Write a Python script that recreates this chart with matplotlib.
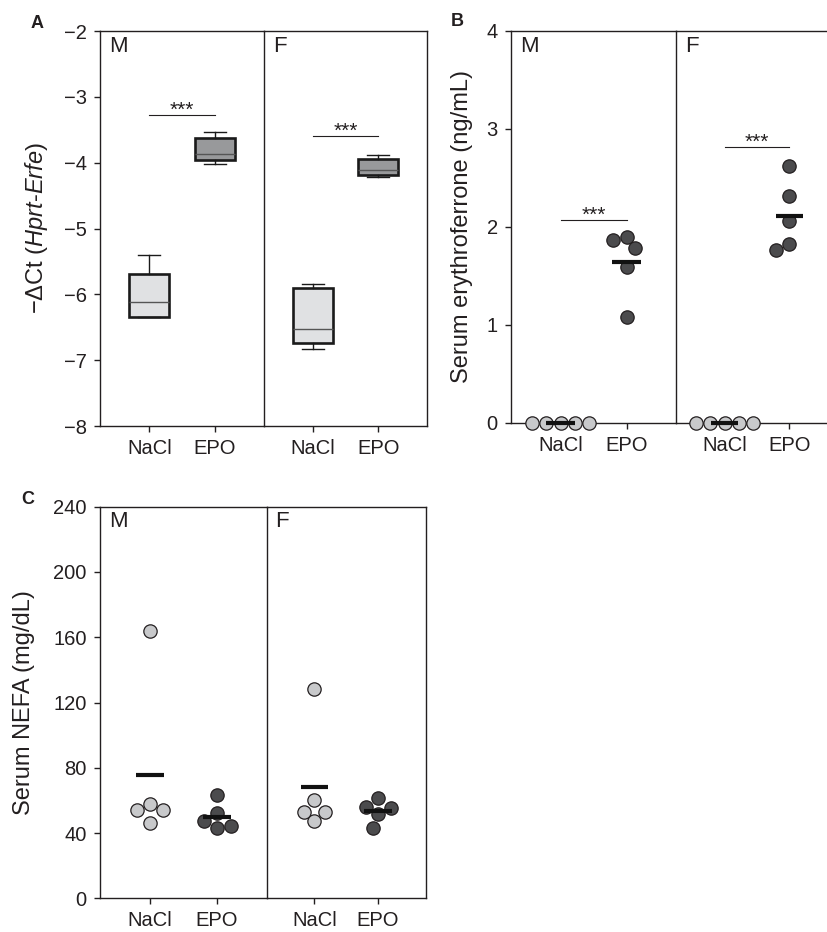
import matplotlib
matplotlib.use("Agg")
import matplotlib.pyplot as plt
import numpy as np

plt.rcParams["font.family"] = ["Liberation Sans", "DejaVu Sans"]
plt.rcParams["mathtext.fontset"] = "custom"
plt.rcParams["mathtext.rm"] = "Liberation Sans"
plt.rcParams["mathtext.it"] = "Liberation Sans:italic"

# Categorias
grupos = ["NaCl", "EPO"]
sexos = ["M", "F"]

# Painel A: caixas (whislo, q1, mediana, q3, whishi) para NaCl e EPO
caixa_m = [[-6.35, -6.35, -6.12, -5.69, -5.41],
           [-4.02, -3.96, -3.87, -3.62, -3.53]]
caixa_f = [[-6.83, -6.74, -6.52, -5.90, -5.84],
           [-4.22, -4.19, -4.11, -3.94, -3.89]]
sig_a = [-3.27, -3.595]

# Painel B: eritroferrona (ng/mL)
b_nacl_m = [0, 0, 0, 0, 0]
b_epo_m = [1.90, 1.87, 1.78, 1.59, 1.08]
b_nacl_f = [0, 0, 0, 0, 0]
b_epo_f = [2.62, 2.31, 2.06, 1.82, 1.76]
sig_b = [2.07, 2.815]

# Painel C: NEFA (mg/dL)
c_nacl_m = [164.0, 57.8, 46.4, 54.1, 54.1]
c_epo_m = [63.3, 42.9, 52.5, 47.4, 44.1]
c_nacl_f = [128.1, 60.3, 47.4, 53.1, 53.1]
c_epo_f = [61.3, 51.5, 43.3, 56.2, 55.1]

cor_txt = "#231f20"
cor_nacl_caixa = "#e0e1e3"
cor_epo_caixa = "#98999b"
cor_nacl_pt = "#c8c9cb"
cor_epo_pt = "#4b4b4d"
xpos = [0.3, 0.7]

W, H = 827, 932
fig = plt.figure(figsize=(W / 100, H / 100), dpi=100)


def novo_eixo(x0, x1, ytop, ybot):
    ax = fig.add_axes([x0 / W, 1 - ybot / H, (x1 - x0) / W, (ybot - ytop) / H])
    ax.patch.set_facecolor("none")
    return ax


def estilo(ax, esquerda, sexo, ylim):
    ax.set_xlim(0, 1)
    ax.set_ylim(*ylim)
    for s in ax.spines.values():
        s.set_linewidth(1.0)
        s.set_color(cor_txt)
    ax.set_xticks(xpos)
    ax.set_xticklabels(grupos)
    ax.tick_params(direction="out", length=4.5, width=1.0, colors=cor_txt,
                   labelsize=14.5, pad=5)
    if not esquerda:
        ax.spines["left"].set_visible(False)
        ax.tick_params(axis="y", left=False, labelleft=False)
    ax.text(0.055, 0.988, sexo, transform=ax.transAxes, ha="left", va="top",
            fontsize=16, color=cor_txt)


def swarm(ax, xc, vals, d=14.3):
    # desloca os pontos na horizontal para nao se sobreporem (ordem da lista)
    ys = ax.transData.transform(np.column_stack([np.full(len(vals), xc), vals]))[:, 1]
    colocados = []
    offs = []
    for y in ys:
        cands = [0.0]
        for xo, yo in colocados:
            dy = abs(y - yo)
            if dy < d:
                dx = np.sqrt(d ** 2 - dy ** 2)
                cands += [xo - dx, xo + dx]
        cands.sort(key=abs)
        escolha = cands[0]
        for c in cands:
            if all((c - xo) ** 2 + (y - yo) ** 2 >= d ** 2 - 1e-6 for xo, yo in colocados):
                escolha = c
                break
        colocados.append((escolha, y))
        offs.append(escolha)
    px_por_unid = ax.transData.transform((1, 0))[0] - ax.transData.transform((0, 0))[0]
    return xc + np.array(offs) / px_por_unid


def pontos(ax, vals, xc, cor):
    xs = swarm(ax, xc, vals)
    ax.scatter(xs, vals, s=92, color=cor, edgecolor=cor_txt, linewidth=0.9,
               zorder=3, clip_on=False)
    m = np.mean(vals)
    ax.plot([xc - 0.085, xc + 0.085], [m, m], color="#111111", lw=3.0,
            zorder=4, solid_capstyle="butt", clip_on=False)


def signif(ax, y):
    ax.plot([xpos[0], xpos[1]], [y, y], color=cor_txt, lw=0.8)
    ax.annotate("***", xy=(0.5, y), xytext=(0, -0.8), textcoords="offset points",
                ha="center", va="baseline", fontsize=15, color=cor_txt)


# ---------------- Painel A ----------------
a1 = novo_eixo(100, 264.3, 31, 426)
a2 = novo_eixo(264.3, 427, 31, 426)
for ax, sexo, caixas, sy in [(a1, "M", caixa_m, sig_a[0]), (a2, "F", caixa_f, sig_a[1])]:
    estilo(ax, ax is a1, sexo, (-8, -2))
    for i, (cx, cor) in enumerate(zip(xpos, [cor_nacl_caixa, cor_epo_caixa])):
        lo, q1, med, q3, hi = caixas[i]
        st = dict(whislo=lo, q1=q1, med=med, q3=q3, whishi=hi, fliers=[])
        ax.bxp([st], positions=[cx], widths=0.245, capwidths=0.135,
               patch_artist=True, showfliers=False, manage_ticks=False,
               boxprops=dict(facecolor=cor, edgecolor="#1a1a1a", linewidth=1.9),
               medianprops=dict(color="#555555", linewidth=1.0),
               whiskerprops=dict(color="#1a1a1a", linewidth=1.0),
               capprops=dict(color="#1a1a1a", linewidth=1.0))
    signif(ax, sy)
a1.set_yticks(range(-8, -1))
a1.set_ylabel("\u2212\u0394Ct ($\\mathit{Hprt}$-$\\mathit{Erfe}$)", fontsize=17, color=cor_txt)
a1.yaxis.set_label_coords(-0.385, 0.5)
a1.yaxis.label.set_va("center")

# ---------------- Painel B ----------------
b1 = novo_eixo(511, 676, 31, 422.7)
b2 = novo_eixo(676, 838, 31, 422.7)
for ax, sexo, nacl, epo, sy in [(b1, "M", b_nacl_m, b_epo_m, sig_b[0]),
                                 (b2, "F", b_nacl_f, b_epo_f, sig_b[1])]:
    estilo(ax, ax is b1, sexo, (0, 4))
    pontos(ax, nacl, xpos[0], cor_nacl_pt)
    pontos(ax, epo, xpos[1], cor_epo_pt)
    signif(ax, sy)
b1.set_yticks(range(0, 5))
b1.set_ylabel("Serum erythroferrone (ng/mL)", fontsize=17, color=cor_txt)
b1.yaxis.set_label_coords(-0.295, 0.5)
b1.yaxis.label.set_va("center")

# ---------------- Painel C ----------------
c1 = novo_eixo(100, 266.7, 506.7, 898.3)
c2 = novo_eixo(266.7, 425.7, 506.7, 898.3)
for ax, sexo, nacl, epo in [(c1, "M", c_nacl_m, c_epo_m), (c2, "F", c_nacl_f, c_epo_f)]:
    estilo(ax, ax is c1, sexo, (0, 240))
    pontos(ax, nacl, xpos[0], cor_nacl_pt)
    pontos(ax, epo, xpos[1], cor_epo_pt)
c1.set_yticks(range(0, 241, 40))
c1.set_ylabel("Serum NEFA (mg/dL)", fontsize=17, color=cor_txt)
c1.yaxis.set_label_coords(-0.458, 0.5)
c1.yaxis.label.set_va("center")

# letras dos paineis
for letra, x, y in [("A", 37, 23), ("B", 457, 22), ("C", 28, 499)]:
    fig.text(x / W, 1 - y / H, letra, ha="center", va="center",
             fontsize=13, fontweight="bold", color=cor_txt)

fig.savefig("out.png", dpi=100)
